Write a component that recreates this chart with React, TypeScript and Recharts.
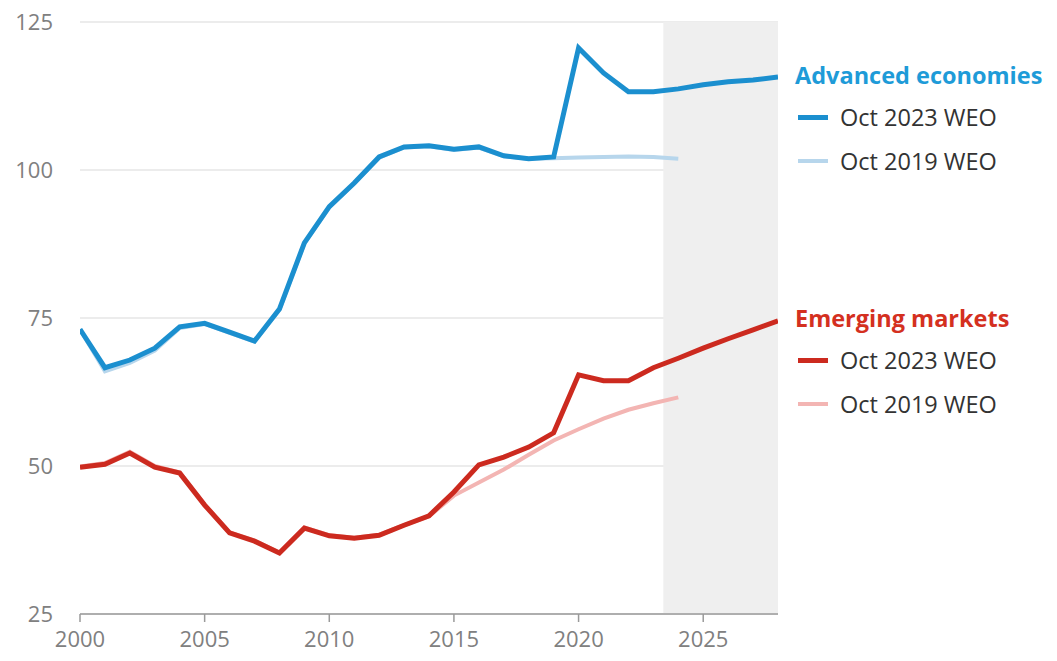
import React from "react";
import {
  LineChart,
  Line,
  XAxis,
  YAxis,
  CartesianGrid,
  ReferenceArea,
} from "recharts";

const years = [
  2000, 2001, 2002, 2003, 2004, 2005, 2006, 2007, 2008, 2009, 2010, 2011, 2012,
  2013, 2014, 2015, 2016, 2017, 2018, 2019, 2020, 2021, 2022, 2023, 2024, 2025,
  2026, 2027, 2028,
];

const advanced2023 = [
  73.1, 66.6, 67.9, 69.9, 73.5, 74.1, 72.6, 71.1, 76.5, 87.7, 93.8, 97.8, 102.2,
  103.9, 104.1, 103.5, 103.9, 102.4, 101.9, 102.2, 120.6, 116.4, 113.2, 113.2,
  113.7, 114.4, 114.9, 115.2, 115.7,
];

const advanced2019 = [
  73.1, 66.0, 67.4, 69.5, 73.3, 74.0, 72.5, 71.0, 76.4, 87.6, 93.7, 97.7, 102.1,
  103.8, 104.0, 103.4, 103.8, 102.3, 101.9, 102.0, 102.1, 102.2, 102.3, 102.2,
  101.9,
];

const emerging2023 = [
  49.8, 50.3, 52.2, 49.8, 48.8, 43.4, 38.7, 37.3, 35.3, 39.5, 38.2, 37.8, 38.3,
  40.0, 41.6, 45.6, 50.2, 51.5, 53.2, 55.6, 65.4, 64.4, 64.4, 66.6, 68.2, 69.9,
  71.5, 73.0, 74.5,
];

const emerging2019 = [
  49.9, 50.5, 52.4, 50.0, 48.9, 43.5, 38.8, 37.4, 35.4, 39.6, 38.3, 37.9, 38.4,
  40.0, 41.5, 45.0, 47.2, 49.4, 51.9, 54.3, 56.2, 58.0, 59.5, 60.6, 61.6,
];

const xTicks = [2000, 2005, 2010, 2015, 2020, 2025];
const yTicks = [25, 50, 75, 100, 125];
const projectionStart = 2023.4;
const projectionEnd = 2028;

const data = years.map((year, i) => ({
  year,
  adv23: advanced2023[i],
  adv19: i < advanced2019.length ? advanced2019[i] : null,
  em23: emerging2023[i],
  em19: i < emerging2019.length ? emerging2019[i] : null,
}));

const FONT = "'Open Sans', Lato, sans-serif";
const ADV_DARK = "#1b8fcf";
const ADV_LIGHT = "#b7d6ec";
const ADV_TEXT = "#1e9bd8";
const EM_DARK = "#cc2a1f";
const EM_LIGHT = "#f3b5b3";
const EM_TEXT = "#d4301f";

const groups = [
  {
    title: "Advanced economies",
    color: ADV_TEXT,
    top: 55,
    items: [
      { label: "Oct 2023 WEO", color: ADV_DARK, w: 5 },
      { label: "Oct 2019 WEO", color: ADV_LIGHT, w: 4 },
    ],
  },
  {
    title: "Emerging markets",
    color: EM_TEXT,
    top: 298,
    items: [
      { label: "Oct 2023 WEO", color: EM_DARK, w: 5 },
      { label: "Oct 2019 WEO", color: EM_LIGHT, w: 4 },
    ],
  },
];

const ChartLegend = () => (
  <div style={{ position: "absolute", left: 795, top: 0, width: 262, height: 661, fontFamily: FONT }}>
    {groups.map((g) => (
      <div key={g.title} style={{ position: "absolute", left: 0, top: g.top }}>
        <div
          style={{
            color: g.color,
            fontWeight: 700,
            fontSize: 23.5,
            lineHeight: "40px",
            whiteSpace: "nowrap",
          }}
        >
          {g.title}
        </div>
        {g.items.map((it) => (
          <div
            key={it.label}
            style={{
              display: "flex",
              alignItems: "center",
              height: 44,
              marginLeft: 3,
            }}
          >
            <div
              style={{
                width: 30,
                height: it.w,
                background: it.color,
                marginRight: 12,
              }}
            />
            <span style={{ color: "#333", fontSize: 23.5, whiteSpace: "nowrap" }}>
              {it.label}
            </span>
          </div>
        ))}
      </div>
    ))}
  </div>
);

export default function App() {
  return (
    <div style={{ position: "absolute", left: 0, top: 0, width: 1057, height: 661, background: "#fff" }}>
      <LineChart
        width={1057}
        height={661}
        data={data}
        margin={{ top: 22, right: 279, bottom: 7, left: 20 }}
      >
        <ReferenceArea
          x1={projectionStart}
          x2={projectionEnd}
          y1={25}
          y2={125}
          fill="#efefef"
          fillOpacity={1}
          stroke="none"
          ifOverflow="hidden"
        />
        <CartesianGrid vertical={false} stroke="#e6e6e6" strokeWidth={1.5} />
        <XAxis
          dataKey="year"
          type="number"
          domain={[2000, 2028]}
          ticks={xTicks}
          height={40}
          stroke="#9a9a9a"
          strokeWidth={1.5}
          tickSize={8}
          tickMargin={9}
          tick={{ fill: "#808080", fontSize: 22, fontFamily: FONT }}
          allowDataOverflow
        />
        <YAxis
          type="number"
          domain={[25, 125]}
          ticks={yTicks}
          width={60}
          axisLine={false}
          tickLine={false}
          tickSize={0}
          tickMargin={27}
          tick={{ fill: "#808080", fontSize: 22, fontFamily: FONT }}
        />
        <Line
          dataKey="adv19"
          stroke={ADV_LIGHT}
          strokeWidth={4}
          dot={false}
          isAnimationActive={false}
          connectNulls={false}
        />
        <Line
          dataKey="em19"
          stroke={EM_LIGHT}
          strokeWidth={4}
          dot={false}
          isAnimationActive={false}
          connectNulls={false}
        />
        <Line
          dataKey="adv23"
          stroke={ADV_DARK}
          strokeWidth={5}
          dot={false}
          isAnimationActive={false}
        />
        <Line
          dataKey="em23"
          stroke={EM_DARK}
          strokeWidth={5}
          dot={false}
          isAnimationActive={false}
        />
      </LineChart>
      <ChartLegend />
    </div>
  );
}
